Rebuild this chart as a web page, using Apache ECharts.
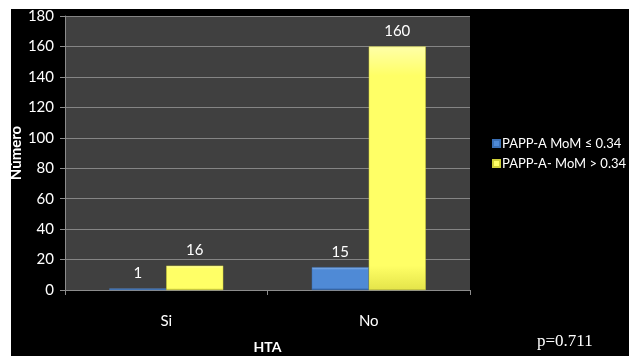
<!DOCTYPE html>
<html>
<head>
<meta charset="utf-8">
<script src="https://cdn.jsdelivr.net/npm/echarts@6/dist/echarts.min.js"></script>
<style>
  html, body { margin: 0; padding: 0; background: #ffffff; width: 629px; height: 356px; overflow: hidden; }
  #chart { position: absolute; left: 11px; top: 9px; width: 618px; height: 347px; background: #000000; }
</style>
</head>
<body>
<div id="chart"></div>
<script>
// Hypertension (HTA) groups and counts per PAPP-A MoM group
const categories = ['Si', 'No'];
const seriesNames = ['PAPP-A MoM \u2264 0.34', 'PAPP-A- MoM > 0.34'];
const lowMoM = [1, 15];
const highMoM = [16, 160];
const yTicks = { min: 0, max: 180, interval: 20 };

const chart = echarts.init(document.getElementById('chart'), null, { renderer: 'canvas' });

const font = 'Lato, "Open Sans", sans-serif';

function grad(top, mid, bottom) {
  return new echarts.graphic.LinearGradient(0, 0, 0, 1, [
    { offset: 0, color: top },
    { offset: 0.12, color: mid },
    { offset: 0.9, color: mid },
    { offset: 1, color: bottom }
  ]);
}

const labelStyle = {
  show: true,
  position: 'top',
  distance: 8,
  color: '#ffffff',
  fontFamily: font,
  fontSize: 15
};

chart.setOption({
  backgroundColor: '#000000',
  animation: false,
  grid: {
    left: 54, top: 7, width: 405, height: 274,
    outerBoundsMode: 'none',
    containLabel: false,
    show: true, backgroundColor: '#404040', borderWidth: 0
  },
  legend: {
    orient: 'vertical',
    left: 476, top: 123,
    itemWidth: 7, itemHeight: 7, itemGap: 7,
    icon: 'rect',
    textStyle: { color: '#ffffff', fontFamily: font, fontSize: 13, padding: [0, 0, 0, -3] },
    data: seriesNames
  },
  xAxis: {
    type: 'category',
    data: categories,
    name: 'HTA',
    nameLocation: 'middle',
    nameGap: 50,
    nameMoveOverlap: false,
    nameTextStyle: { color: '#ffffff', fontFamily: font, fontSize: 14, fontWeight: 'bold' },
    axisLine: { lineStyle: { color: '#8c8c8c', width: 1 } },
    axisTick: { show: true, length: 5, lineStyle: { color: '#8c8c8c' } },
    axisLabel: { color: '#ffffff', fontFamily: font, fontSize: 15, margin: 24 }
  },
  yAxis: {
    type: 'value',
    min: yTicks.min, max: yTicks.max, interval: yTicks.interval,
    name: 'Número',
    nameLocation: 'middle',
    nameGap: 41,
    nameMoveOverlap: false,
    nameTextStyle: { color: '#ffffff', fontFamily: font, fontSize: 15, fontWeight: 'bold' },
    axisLine: { show: true, lineStyle: { color: '#8c8c8c' } },
    axisTick: { show: true, length: 5, lineStyle: { color: '#8c8c8c' } },
    axisLabel: { color: '#ffffff', fontFamily: font, fontSize: 15, margin: 11 },
    splitLine: { lineStyle: { color: '#858585', width: 1 } }
  },
  series: [
    {
      name: seriesNames[0],
      type: 'bar',
      data: lowMoM,
      barWidth: 57,
      barGap: '0%',
      itemStyle: { color: grad('#8fb8ec', '#4f8ad6', '#2f62a8'), borderColor: '#3a6fb5', borderWidth: 0.5 },
      label: labelStyle
    },
    {
      name: seriesNames[1],
      type: 'bar',
      data: highMoM,
      barWidth: 57,
      barGap: '0%',
      itemStyle: { color: grad('#ffffa8', '#ffff66', '#e4e44a'), borderColor: '#d0d038', borderWidth: 0.5 },
      label: labelStyle
    }
  ],
  graphic: [
    {
      type: 'text',
      left: 526, top: 324,
      style: { text: 'p=0.711', fill: '#ffffff', font: '17px "Liberation Serif", "DejaVu Serif", serif' }
    }
  ]
});
</script>
</body>
</html>
